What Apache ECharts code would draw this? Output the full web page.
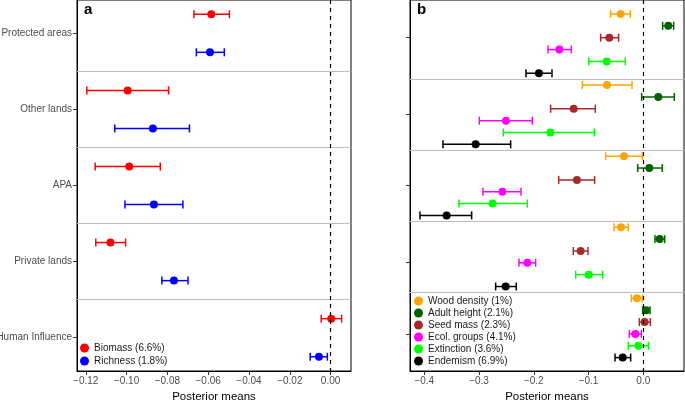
<!DOCTYPE html>
<html><head><meta charset="utf-8">
<script src="https://cdn.jsdelivr.net/npm/echarts@6/dist/echarts.min.js"></script>
<style>html,body{margin:0;padding:0;background:#fff}#c{width:685px;height:402px}</style>
</head><body><div id="c"></div>
<script>
// ---- Data ----
const groups = ['Protected areas', 'Other lands', 'APA', 'Private lands', 'Human Influence'];
const xTicksA = [-0.12, -0.10, -0.08, -0.06, -0.04, -0.02, 0.00];
const xTicksB = [-0.4, -0.3, -0.2, -0.1, 0.0];

// Panel a
const biomassMean = [-0.0585, -0.0995, -0.0987, -0.1079, 0.0003];
const biomassLow  = [-0.0670, -0.1195, -0.1154, -0.1151, -0.0046];
const biomassHigh = [-0.0496, -0.0794, -0.0835, -0.1005, 0.0054];
const richMean = [-0.0591, -0.0871, -0.0866, -0.0768, -0.0057];
const richLow  = [-0.0658, -0.1058, -0.1008, -0.0827, -0.0100];
const richHigh = [-0.0521, -0.0692, -0.0724, -0.0699, -0.0016];

// Panel b (per group: Protected, Other, APA, Private, Human Influence)
const woodMean = [-0.0414, -0.0664, -0.0353, -0.0408, -0.0116];
const woodLow  = [-0.0597, -0.1114, -0.0688, -0.0536, -0.0219];
const woodHigh = [-0.0237, -0.0207, -0.0018, -0.0274, -0.0018];
const heightMean = [0.0457, 0.0274, 0.0110, 0.0298, 0.0049];
const heightLow  = [0.0353, -0.0030, -0.0103, 0.0213, -0.0012];
const heightHigh = [0.0554, 0.0566, 0.0347, 0.0390, 0.0122];
const seedMean = [-0.0621, -0.1272, -0.1212, -0.1145, 0.0024];
const seedLow  = [-0.0779, -0.1693, -0.1546, -0.1279, -0.0073];
const seedHigh = [-0.0451, -0.0877, -0.0889, -0.1011, 0.0128];
const ecolMean = [-0.1534, -0.2508, -0.2575, -0.2119, -0.0146];
const ecolLow  = [-0.1741, -0.2995, -0.2928, -0.2271, -0.0256];
const ecolHigh = [-0.1315, -0.2027, -0.2234, -0.1967, -0.0037];
const extMean = [-0.0670, -0.1699, -0.2752, -0.0998, -0.0091];
const extLow  = [-0.0998, -0.2557, -0.3367, -0.1236, -0.0274];
const extHigh = [-0.0329, -0.0895, -0.2119, -0.0743, 0.0097];
const endMean = [-0.1906, -0.3062, -0.3592, -0.2514, -0.0377];
const endLow  = [-0.2143, -0.3659, -0.4079, -0.2697, -0.0517];
const endHigh = [-0.1668, -0.2423, -0.3135, -0.2320, -0.0231];

const seriesA = [
  {name: 'Biomass (6.6%)', color: '#FF0000', mean: biomassMean, low: biomassLow, high: biomassHigh, off: -0.25},
  {name: 'Richness (1.8%)', color: '#0000FF', mean: richMean, low: richLow, high: richHigh, off: 0.25}
];
const seriesB = [
  {name: 'Wood density (1%)', color: '#FFA500', mean: woodMean, low: woodLow, high: woodHigh},
  {name: 'Adult height (2.1%)', color: '#006400', mean: heightMean, low: heightLow, high: heightHigh},
  {name: 'Seed mass (2.3%)', color: '#A52A2A', mean: seedMean, low: seedLow, high: seedHigh},
  {name: 'Ecol. groups (4.1%)', color: '#FF00FF', mean: ecolMean, low: ecolLow, high: ecolHigh},
  {name: 'Extinction (3.6%)', color: '#00FF00', mean: extMean, low: extLow, high: extHigh},
  {name: 'Endemism (6.9%)', color: '#000000', mean: endMean, low: endLow, high: endHigh}
];
const ticksBpos = [2, 8.46, 14.49, 20.97, 27.0];

// ---- Chart ----
const FONT = '"Liberation Sans", Arial, sans-serif';
const chart = echarts.init(document.getElementById('c'), null, {renderer: 'canvas'});

function fmt(v, d) { const s = Math.abs(v).toFixed(d); return (v < -1e-9 ? '\u2212' : '') + s; }

function errRender(params, api) {
  const y = api.value(2);
  const p1 = api.coord([api.value(0), y]);
  const p2 = api.coord([api.value(1), y]);
  const c = api.visual('color');
  const st = {stroke: c, lineWidth: 1.5};
  const h = 4;
  return {type: 'group', children: [
    {type: 'line', shape: {x1: p1[0], y1: p1[1], x2: p2[0], y2: p2[1]}, style: st},
    {type: 'line', shape: {x1: p1[0], y1: p1[1] - h, x2: p1[0], y2: p1[1] + h}, style: st},
    {type: 'line', shape: {x1: p2[0], y1: p2[1] - h, x2: p2[0], y2: p2[1] + h}, style: st}
  ]};
}

const series = [];
series.push({type: 'line', xAxisIndex: 0, yAxisIndex: 0, data: [], silent: true,
  markLine: {silent: true, symbol: 'none', label: {show: false}, animation: false,
    data: [0.5, 1.5, 2.5, 3.5].map(v => ({yAxis: v, lineStyle: {color: '#BEBEBE', width: 1, type: 'solid'}}))
      .concat([{xAxis: 0, lineStyle: {color: '#000', width: 1.2, type: [4, 4]}}])}});
series.push({type: 'line', xAxisIndex: 1, yAxisIndex: 1, data: [], silent: true,
  markLine: {silent: true, symbol: 'none', label: {show: false}, animation: false,
    data: [5.5, 11.5, 17.5, 23.5].map(v => ({yAxis: v, lineStyle: {color: '#BEBEBE', width: 1, type: 'solid'}}))
      .concat([{xAxis: 0, lineStyle: {color: '#000', width: 1.2, type: [4, 4]}}])}});

seriesA.forEach(s => {
  series.push({type: 'custom', name: s.name + '_err', xAxisIndex: 0, yAxisIndex: 0, renderItem: errRender,
    itemStyle: {color: s.color}, encode: {x: [0, 1], y: 2}, z: 3,
    data: groups.map((g, i) => [s.low[i], s.high[i], i + s.off])});
  series.push({type: 'scatter', name: s.name, xAxisIndex: 0, yAxisIndex: 0, symbolSize: 8, z: 4,
    itemStyle: {color: s.color, opacity: 1}, data: groups.map((g, i) => [s.mean[i], i + s.off])});
});
seriesB.forEach((s, j) => {
  series.push({type: 'custom', name: s.name + '_err', xAxisIndex: 1, yAxisIndex: 1, renderItem: errRender,
    itemStyle: {color: s.color}, encode: {x: [0, 1], y: 2}, z: 3,
    data: groups.map((g, i) => [s.low[i], s.high[i], 6 * i + j])});
  series.push({type: 'scatter', name: s.name, xAxisIndex: 1, yAxisIndex: 1, symbolSize: 8, z: 4,
    itemStyle: {color: s.color, opacity: 1}, data: groups.map((g, i) => [s.mean[i], 6 * i + j])});
});

const axisCommonX = {
  type: 'value', nameLocation: 'middle', nameGap: 20, name: 'Posterior means',
  nameTextStyle: {color: '#000', fontSize: 11.5, fontFamily: FONT},
  axisLine: {show: true, onZero: false, lineStyle: {color: '#000', width: 1}},
  splitLine: {show: false}
};

const legendText = {fontSize: 10, lineHeight: 9, color: '#1a1a1a', fontFamily: FONT};

const option = {
  animation: false,
  textStyle: {fontFamily: FONT},
  grid: [
    {left: 77, top: 0, width: 274, height: 371, containLabel: false, outerBoundsMode: 'none',
      show: true, borderColor: '#000', borderWidth: 1, backgroundColor: 'transparent'},
    {left: 410, top: 0, width: 274, height: 371, containLabel: false, outerBoundsMode: 'none',
      show: true, borderColor: '#000', borderWidth: 1, backgroundColor: 'transparent'}
  ],
  xAxis: [
    Object.assign({}, axisCommonX, {gridIndex: 0, min: -0.1243, max: 0.0100,
      axisTick: {show: true, length: 4, lineStyle: {color: '#333'}, customValues: xTicksA},
      axisLabel: {customValues: xTicksA, color: '#4D4D4D', fontSize: 10, margin: 5, formatter: v => fmt(v, 2)}}),
    Object.assign({}, axisCommonX, {gridIndex: 1, min: -0.4261, max: 0.0743,
      axisTick: {show: true, length: 4, lineStyle: {color: '#333'}, customValues: xTicksB},
      axisLabel: {customValues: xTicksB, color: '#4D4D4D', fontSize: 10, margin: 5, formatter: v => fmt(v, 1)}})
  ],
  yAxis: [
    {type: 'value', gridIndex: 0, inverse: true, min: -0.4376, max: 4.4376, position: 'left',
      axisLine: {show: true, onZero: false, lineStyle: {color: '#000', width: 1}},
      axisTick: {show: true, length: 4, lineStyle: {color: '#333'}, customValues: [0, 1, 2, 3, 4]},
      axisLabel: {customValues: [0, 1, 2, 3, 4], color: '#4D4D4D', fontSize: 10, margin: 5,
        formatter: v => groups[Math.round(v)] || ''},
      splitLine: {show: false}},
    {type: 'value', gridIndex: 1, inverse: true, min: -1.181, max: 30.13, position: 'left',
      axisLine: {show: true, onZero: false, lineStyle: {color: '#000', width: 1}},
      axisTick: {show: true, length: 4, lineStyle: {color: '#333'}, customValues: ticksBpos},
      axisLabel: {show: false},
      splitLine: {show: false}}
  ],
  legend: [
    {left: 80, top: 343, orient: 'vertical', padding: 0, itemGap: 3, itemWidth: 9, itemHeight: 9, icon: 'circle',
      data: seriesA.map(s => s.name), textStyle: legendText, selectedMode: false},
    {left: 414, top: 296, orient: 'vertical', padding: 0, itemGap: 2, itemWidth: 9, itemHeight: 9, icon: 'circle',
      data: seriesB.map(s => s.name), textStyle: legendText, selectedMode: false}
  ],
  graphic: [
    {type: 'text', left: 84, top: 2, style: {text: 'a', font: 'bold 15px ' + FONT, fill: '#000'}},
    {type: 'text', left: 417, top: 2, style: {text: 'b', font: 'bold 15px ' + FONT, fill: '#000'}}
  ],
  series: series
};
chart.setOption(option);
</script></body></html>
